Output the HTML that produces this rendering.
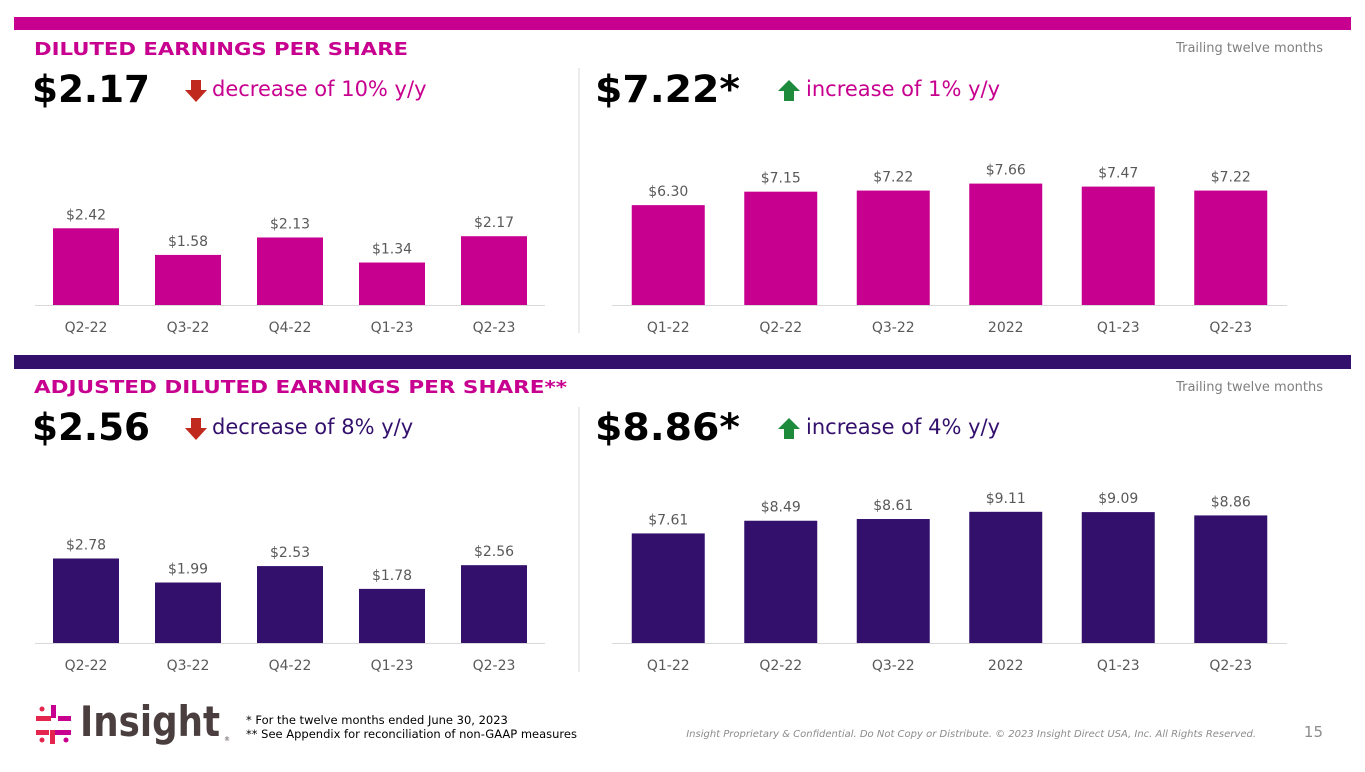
<!DOCTYPE html>
<html><head><meta charset="utf-8"><style>
body{margin:0;width:1365px;height:768px;background:#fff;overflow:hidden;font-family:"DejaVu Sans","Liberation Sans",sans-serif}
svg text{font-family:"DejaVu Sans","Liberation Sans",sans-serif}
</style></head><body>
<svg id="s" width="1365" height="768" xmlns="http://www.w3.org/2000/svg">
<rect x="14" y="17" width="1337" height="13" fill="#c8008f"/>
<rect x="14" y="355" width="1337" height="14" fill="#34106d"/>
<text x="34" y="55" font-size="18" font-weight="bold" fill="#c8008f" textLength="374" lengthAdjust="spacingAndGlyphs">DILUTED EARNINGS PER SHARE</text>
<text x="34" y="393" font-size="18" font-weight="bold" fill="#c8008f" textLength="533" lengthAdjust="spacingAndGlyphs">ADJUSTED DILUTED EARNINGS PER SHARE**</text>
<text x="1323" y="52" font-size="13" fill="#7f7f7f" text-anchor="end">Trailing twelve months</text>
<text x="1323" y="391" font-size="13" fill="#7f7f7f" text-anchor="end">Trailing twelve months</text>
<line x1="579" y1="68" x2="579" y2="333" stroke="#d9d9d9"/>
<line x1="579" y1="407" x2="579" y2="672" stroke="#d9d9d9"/>
<g><text x="32" y="102" font-size="37" font-weight="bold" fill="#000" textLength="118" lengthAdjust="spacingAndGlyphs">$2.17</text>
<path d="M191 80h10v10h6l-11 12-11-12h6z" fill="#c0291d"/>
<text x="212" y="96" font-size="21" fill="#c8008f">decrease of 10% y/y</text></g>
<g><text x="595" y="102" font-size="37" font-weight="bold" fill="#000" textLength="145" lengthAdjust="spacingAndGlyphs">$7.22*</text>
<path d="M789 80l11 11h-6v10h-10v-10h-6z" fill="#1e8a3c"/>
<text x="806" y="96" font-size="21" fill="#c8008f">increase of 1% y/y</text></g>
<g><text x="32" y="440" font-size="37" font-weight="bold" fill="#000" textLength="118" lengthAdjust="spacingAndGlyphs">$2.56</text>
<path d="M191 418h10v10h6l-11 12-11-12h6z" fill="#c0291d"/>
<text x="212" y="434" font-size="21" fill="#34106d">decrease of 8% y/y</text></g>
<g><text x="595" y="440" font-size="37" font-weight="bold" fill="#000" textLength="145" lengthAdjust="spacingAndGlyphs">$8.86*</text>
<path d="M789 418l11 11h-6v10h-10v-10h-6z" fill="#1e8a3c"/>
<text x="806" y="434" font-size="21" fill="#34106d">increase of 4% y/y</text></g>
<g>
<rect x="36" y="716" width="15" height="5" fill="#e4264f"/><rect x="58" y="716" width="13" height="5" fill="#c8008f"/>
<rect x="36" y="730" width="13" height="5" fill="#e4264f"/><rect x="54" y="730" width="17" height="5" fill="#c8008f"/>
<rect x="51" y="705" width="5" height="13" fill="#c8008f"/><rect x="50" y="730" width="5" height="14" fill="#e4264f"/>
<circle cx="42" cy="709" r="2.5" fill="#e4264f"/><circle cx="66" cy="740" r="2.5" fill="#c8008f"/>
<circle cx="42" cy="740" r="2.5" fill="#e4264f"/>
<text x="80" y="736" font-size="42" fill="#4a3e3e" font-weight="bold" font-family="Liberation Sans" textLength="140" lengthAdjust="spacingAndGlyphs">Insight</text>
<text x="224" y="741" font-size="6" fill="#4a3e3e">®</text></g>
<text x="246" y="724" font-size="11.5" fill="#000">* For the twelve months ended June 30, 2023</text>
<text x="246" y="738" font-size="11.5" fill="#000">** See Appendix for reconciliation of non-GAAP measures</text>
<text x="1256" y="737" font-size="10" font-style="italic" fill="#8c8c8c" text-anchor="end" font-family="Liberation Sans">Insight Proprietary &amp; Confidential. Do Not Copy or Distribute. © 2023 Insight Direct USA, Inc. All Rights Reserved.</text>
<text x="1323" y="737" font-size="15" fill="#8c8c8c" text-anchor="end">15</text>
</svg>
<script>
const qCats = ["Q2-22","Q3-22","Q4-22","Q1-23","Q2-23"];
const ttmCats = ["Q1-22","Q2-22","Q3-22","2022","Q1-23","Q2-23"];
const qEps = [2.42,1.58,2.13,1.34,2.17];
const ttmEps = [6.30,7.15,7.22,7.66,7.47,7.22];
const qAdjEps = [2.78,1.99,2.53,1.78,2.56];
const ttmAdjEps = [7.61,8.49,8.61,9.11,9.09,8.86];
const NS="http://www.w3.org/2000/svg", svg=document.getElementById('s');
function chart(name,cats,vals,x0,x1,base,scale,barW,color){
  const g=document.createElementNS(NS,'g');
  
  
  svg.appendChild(g);
  const ax=document.createElementNS(NS,'line');
  ax.setAttribute('x1',x0);ax.setAttribute('x2',x1);ax.setAttribute('y1',base+0.5);ax.setAttribute('y2',base+0.5);
  ax.setAttribute('stroke','#d9d9d9');
  
  
  g.appendChild(ax);
  const step=(x1-x0)/cats.length;
  const xs=i=>x0+step*(i+0.5);
  const ys=v=>v*scale;
  cats.forEach((c,i)=>{
    const h=ys(vals[i]);
    const r=document.createElementNS(NS,'rect');
    r.setAttribute('x',xs(i)-barW/2);r.setAttribute('y',base-h);r.setAttribute('width',barW);r.setAttribute('height',h);r.setAttribute('fill',color);
    
    
    g.appendChild(r);
    const t=document.createElementNS(NS,'text');
    t.setAttribute('x',xs(i));t.setAttribute('y',base-h-9);t.setAttribute('text-anchor','middle');t.setAttribute('font-size','14');t.setAttribute('fill','#595959');
    t.textContent='$'+vals[i].toFixed(2);
    
    
    g.appendChild(t);
    const l=document.createElementNS(NS,'text');
    l.setAttribute('x',xs(i));l.setAttribute('y',base+27);l.setAttribute('text-anchor','middle');l.setAttribute('font-size','14');l.setAttribute('fill','#595959');
    l.textContent=c;
    
    
    g.appendChild(l);
  });
}
chart('chart-q-eps',qCats,qEps,35,545,305,31.7,66,'#c8008f');
chart('chart-ttm-eps',ttmCats,ttmEps,612,1287,305,15.85,73,'#c8008f');
chart('chart-q-adj-eps',qCats,qAdjEps,35,545,643,30.4,66,'#34106d');
chart('chart-ttm-adj-eps',ttmCats,ttmAdjEps,612,1287,643,14.4,73,'#34106d');
</script>
</body></html>
